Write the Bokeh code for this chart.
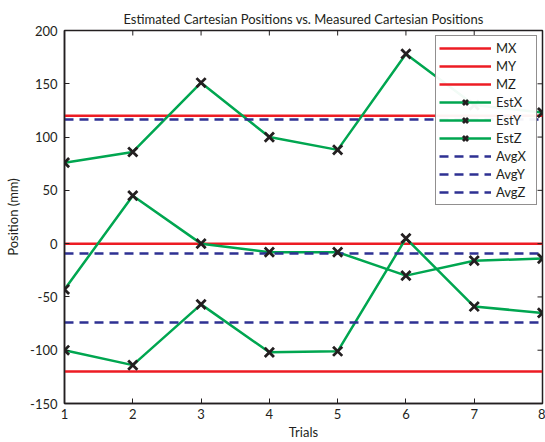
import math
from bokeh.plotting import figure
from bokeh.models import Range1d, FixedTicker, Legend, LegendItem
from bokeh.embed import file_html
from bokeh.resources import INLINE

trials = [1, 2, 3, 4, 5, 6, 7, 8]
est_x = [76, 86, 151, 100, 88, 178, 130, 123]
est_y = [-43, 45, 0, -8, -8, -30, -16, -14]
est_z = [-100, -114, -57, -102, -101, 5, -59, -65]
measured = {"MX": 120, "MY": 0, "MZ": -120}
averages = {"AvgX": 116.5, "AvgY": -9.25, "AvgZ": -74}
y_ticks = [-150, -100, -50, 0, 50, 100, 150, 200]

RED = "#ED1C24"
GREEN = "#00A650"
NAVY = "#2E3192"
INK = "#231F20"
FONT = "Lato"

p = figure(width=545, height=442, output_backend="svg", toolbar_location=None,
           x_range=Range1d(1, 8), y_range=Range1d(-150, 200),
           min_border_left=64, min_border_right=3, min_border_top=30, min_border_bottom=38,
           title="Estimated Cartesian Positions vs. Measured Cartesian Positions")
p.title.align = "center"
p.title.text_font = FONT
p.title.text_font_size = "13px"
p.title.text_font_style = "normal"
p.title.text_color = INK
p.title.standoff = 8
p.grid.visible = False
p.outline_line_color = INK
p.outline_line_width = 1.5
p.background_fill_color = "white"
p.border_fill_color = "white"

items = []
for name, v in measured.items():
    r = p.line(trials, [v] * len(trials), line_color=RED, line_width=2.5)
    items.append(LegendItem(label=name, renderers=[r]))
est_items = []
for name, ys in (("EstX", est_x), ("EstY", est_y), ("EstZ", est_z)):
    r1 = p.line(trials, ys, line_color=GREEN, line_width=2.5)
    est_items.append((name, r1, ys))
avg_items = []
for name, v in averages.items():
    r = p.line(trials, [v] * len(trials), line_color=NAVY, line_width=2.5, line_dash="9 6")
    avg_items.append(LegendItem(label=name, renderers=[r]))
for name, r1, ys in est_items:
    m = p.scatter(trials, ys, marker="x", size=13, line_color=INK, line_width=2.8)
    items.append(LegendItem(label=name, renderers=[r1, m]))
items.extend(avg_items)

# inward ticks on top and right edges (box)
p.ray(x=trials[1:-1], y=[y_ticks[-1]] * (len(trials) - 2), length=5, length_units="screen",
      angle=-math.pi / 2, line_color=INK, line_width=1)
p.ray(x=[trials[-1]] * (len(y_ticks) - 2), y=y_ticks[1:-1], length=5, length_units="screen",
      angle=math.pi, line_color=INK, line_width=1)

legend = Legend(items=items, location="top_right")
legend.border_line_color = INK
legend.border_line_width = 1.5
legend.label_text_font = FONT
legend.label_text_font_size = "13px"
legend.label_text_color = INK
legend.glyph_width = 52
legend.glyph_height = 18
legend.label_height = 18
legend.label_width = 37
legend.spacing = 0
legend.padding = 3
legend.margin = 5
legend.label_standoff = 5
p.add_layout(legend, "center")

for ax in (p.xaxis[0], p.yaxis[0]):
    ax.axis_line_color = INK
    ax.axis_line_width = 1.5
    ax.major_tick_line_color = INK
    ax.major_tick_in = 5
    ax.major_tick_out = 0
    ax.minor_tick_line_color = None
    ax.major_label_text_font = FONT
    ax.major_label_text_font_size = "13px"
    ax.major_label_text_color = INK
    ax.axis_label_text_font = FONT
    ax.axis_label_text_font_size = "13px"
    ax.axis_label_text_font_style = "normal"
    ax.axis_label_text_color = INK

p.xaxis.ticker = FixedTicker(ticks=trials)
p.yaxis.ticker = FixedTicker(ticks=y_ticks)
p.yaxis.major_label_overrides = {t: str(t) for t in y_ticks}
p.xaxis.axis_label = "Trials"
p.yaxis.axis_label = "Position (mm)"
p.xaxis.major_label_standoff = 5
p.yaxis.major_label_standoff = 7
p.xaxis.axis_label_standoff = 2
p.yaxis.axis_label_standoff = 6

open("out.html", "w").write(file_html(p, INLINE))
